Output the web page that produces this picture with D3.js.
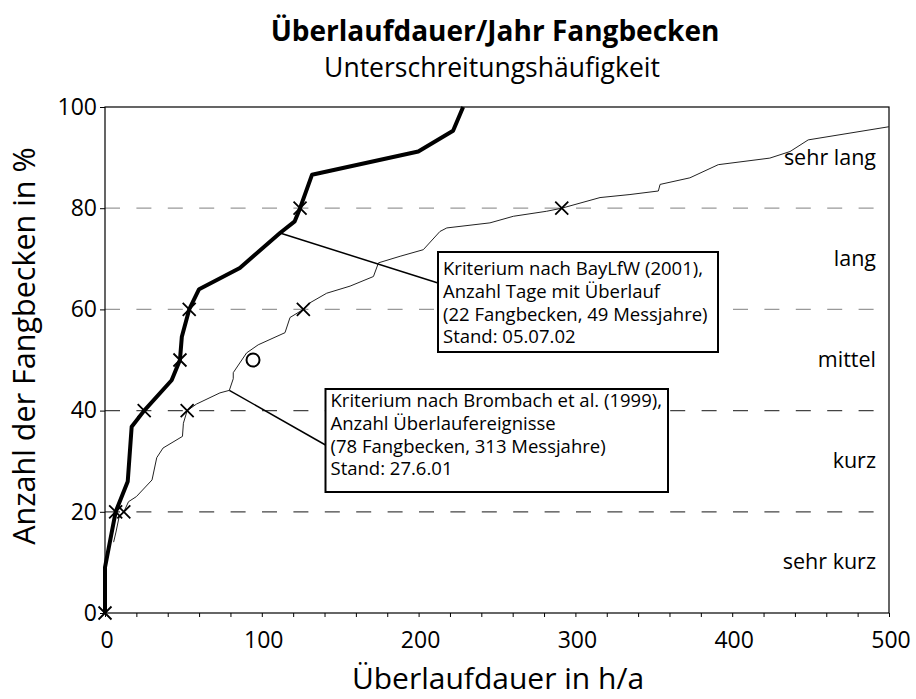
<!DOCTYPE html>
<html>
<head>
<meta charset="utf-8">
<script src="https://cdn.jsdelivr.net/npm/d3@7"></script>
<style>
  body { margin: 0; background: #fff; }
  svg { display: block; font-family: "Open Sans", sans-serif; }
</style>
</head>
<body>
<svg id="chart" width="916" height="699"></svg>
<script>
// Kriterium nach BayLfW (dicke Linie)
const bayDauer  = [0, 0, 6.8, 14.5, 17, 25, 42.5, 47.8, 49, 53.7, 60, 86, 111.6, 121, 124.4, 132, 199.8, 222, 228.4];
const bayAnteil = [0, 9, 20, 26, 36.8, 40, 46, 50, 54.6, 60, 64, 68.2, 75.1, 77.4, 80, 86.6, 91.2, 95.3, 100];

// Kriterium nach Brombach (duenne Linie)
const brDauer  = [5.5, 7, 9, 12, 15, 20, 30, 33, 37, 49.4, 50, 52.4, 58.4, 73.3, 79.3, 81.8, 81.8, 90.3, 97.7, 114.8, 118, 126.5, 130.7, 141.4, 156.3, 171.2, 174.4, 188.2, 203, 213.6, 218, 245.5, 260.4, 281.7, 291.3, 315.7, 334.8, 352.9, 354, 373, 391.1, 424, 436.9, 448.5, 500];
const brAnteil = [14, 16, 19, 20, 22, 23, 26.3, 30.7, 32.6, 34.9, 37.5, 40, 41.3, 43.5, 44, 46.3, 47.5, 51.4, 53, 55.4, 58.4, 60, 61.3, 63.2, 64.6, 66.5, 69.2, 70.5, 71.8, 75.4, 76.1, 77.1, 78.4, 79.4, 80, 82.1, 82.7, 83.4, 84.7, 86, 88.6, 89.9, 91.2, 93.5, 96.1];

// Markierungen
const bayMarkX = [0, 6.8, 25, 47.8, 53.7, 124.4];
const bayMarkY = [0, 20, 40, 50, 60, 80];
const brMarkX = [12, 52.4, 126.5, 291.3];
const brMarkY = [20, 40, 60, 80];
const circleX = [94.4];
const circleY = [50];

const xTickLabels = [0, 100, 200, 300, 400, 500];
const yTickLabels = [0, 20, 40, 60, 80, 100];
const gridLevels = [20, 40, 60, 80];
const classNames = ["sehr kurz", "kurz", "mittel", "lang", "sehr lang"];
const classMid = [10, 30, 50, 70, 90];

const box1Text = ["Kriterium nach BayLfW (2001),", "Anzahl Tage mit Überlauf", "(22 Fangbecken, 49 Messjahre)", "Stand: 05.07.02"];
const box2Text = ["Kriterium nach Brombach et al. (1999),", "Anzahl Überlaufereignisse", "(78 Fangbecken, 313 Messjahre)", "Stand: 27.6.01"];

const svg = d3.select("#chart");
const plotL = 105, plotR = 889, plotT = 107, plotB = 613;

const x = d3.scaleLinear().domain([0, 500]).range([plotL, plotR]);
const y = d3.scaleLinear().domain([0, 100]).range([plotB, plotT]);

// Titel
svg.append("text").attr("x", 495).attr("y", 41).attr("text-anchor", "middle")
   .style("font-size", "28px").style("font-weight", "bold").text("Überlaufdauer/Jahr Fangbecken");
svg.append("text").attr("x", 492).attr("y", 77).attr("text-anchor", "middle")
   .style("font-size", "26.5px").text("Unterschreitungshäufigkeit");

// Gitterlinien
svg.selectAll(".grid").data(gridLevels).enter().append("line")
   .attr("x1", plotL).attr("x2", plotR)
   .attr("y1", d => y(d)).attr("y2", d => y(d))
   .attr("stroke", d => d <= 40 ? "#444" : "#999")
   .attr("stroke-width", 1.3)
   .attr("stroke-dasharray", "15,16.4");

// Rahmen
svg.append("rect").attr("x", plotL).attr("y", plotT)
   .attr("width", plotR - plotL).attr("height", plotB - plotT)
   .attr("fill", "none").attr("stroke", "#000").attr("stroke-width", 1.2);

// Achsen
const xAxis = d3.axisBottom(x).tickValues(d3.range(0, 501, 20)).tickSize(4).tickFormat("");
svg.append("g").attr("transform", `translate(0,${plotB})`).call(xAxis)
   .call(g => g.select(".domain").remove())
   .call(g => g.selectAll("line").attr("stroke", "#000"));
svg.append("g").selectAll("text").data(xTickLabels).enter().append("text")
   .attr("x", d => x(d) + 2).attr("y", plotB + 35).attr("text-anchor", "middle")
   .style("font-size", "23px").text(d => d);

const yAxis = d3.axisLeft(y).tickValues(yTickLabels).tickSize(5).tickPadding(3);
svg.append("g").attr("transform", `translate(${plotL},0)`).call(yAxis)
   .call(g => g.select(".domain").remove())
   .call(g => g.selectAll("line").attr("stroke", "#000"))
   .call(g => g.selectAll("text").style("font-size", "23px").style("font-family", "Open Sans").attr("fill", "#000"));

// Achsentitel
svg.append("text").attr("x", 498).attr("y", 689).attr("text-anchor", "middle")
   .style("font-size", "30px").text("Überlaufdauer in h/a");
svg.append("text").attr("transform", "translate(35,346) rotate(-90)")
   .attr("text-anchor", "middle").style("font-size", "30.5px").text("Anzahl der Fangbecken in %");

// Klassen
svg.selectAll(".cls").data(classNames).enter().append("text")
   .attr("x", 876).attr("y", (d, i) => y(classMid[i]) + 7)
   .attr("text-anchor", "end").style("font-size", "21.5px").text(d => d);

// Linien
const line = d3.line().x(d => x(d[0])).y(d => y(d[1]));
svg.append("path").datum(brDauer.map((d, i) => [d, brAnteil[i]]))
   .attr("d", line).attr("fill", "none").attr("stroke", "#222").attr("stroke-width", 1);
svg.append("path").datum(bayDauer.map((d, i) => [d, bayAnteil[i]]))
   .attr("d", line).attr("fill", "none").attr("stroke", "#000").attr("stroke-width", 4)
   .attr("stroke-linejoin", "round");

// Hinweislinien und Kaesten
function note(fromX, fromY, bx, by, bw, bh, lines, firstBase, leadY) {
  svg.append("line").attr("x1", x(fromX)).attr("y1", y(fromY))
     .attr("x2", bx).attr("y2", by + leadY)
     .attr("stroke", "#000").attr("stroke-width", 1.5);
  svg.append("rect").attr("x", bx).attr("y", by).attr("width", bw).attr("height", bh)
     .attr("fill", "#fff").attr("stroke", "#000").attr("stroke-width", 2);
  const t = svg.append("text").attr("x", bx + 5).attr("y", by + firstBase)
     .style("font-size", "18.5px");
  t.selectAll("tspan").data(lines).enter().append("tspan")
     .attr("x", bx + 5).attr("dy", (d, i) => i === 0 ? 0 : 22.8)
     .text(d => d);
}
note(111.6, 75.1, 438, 252, 280, 100, box1Text, 23, 31);
note(79.3, 44, 325.5, 389, 342.5, 103, box2Text, 18, 56);

// Marker
function cross(xs, ys) {
  svg.append("g").selectAll("path").data(xs).enter().append("path")
     .attr("d", (d, i) => {
       const cx = x(d), cy = y(ys[i]), s = 6.5;
       return `M${cx - s},${cy - s}L${cx + s},${cy + s}M${cx - s},${cy + s}L${cx + s},${cy - s}`;
     })
     .attr("stroke", "#000").attr("stroke-width", 1.8).attr("fill", "none");
}
cross(bayMarkX, bayMarkY);
cross(brMarkX, brMarkY);
svg.append("g").selectAll("circle").data(circleX).enter().append("circle")
   .attr("cx", d => x(d)).attr("cy", (d, i) => y(circleY[i])).attr("r", 6.5)
   .attr("fill", "#fff").attr("stroke", "#000").attr("stroke-width", 2);
</script>
</body>
</html>
